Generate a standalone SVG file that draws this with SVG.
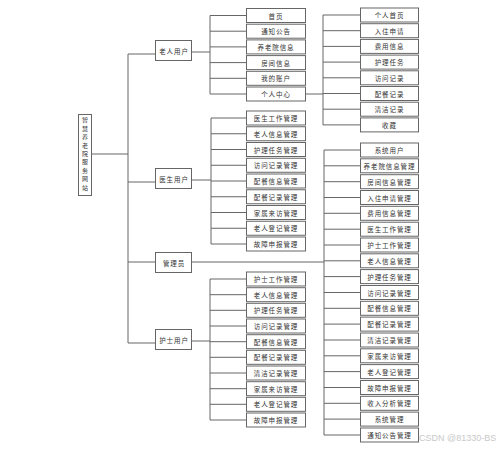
<svg xmlns="http://www.w3.org/2000/svg" width="500" height="449" viewBox="0 0 500 449">
<style>
.b{fill:#fff;stroke:#666;stroke-width:1}
.t{font-family:"Noto Sans CJK SC","Noto Sans",sans-serif;font-size:6.5px;fill:#333;text-anchor:middle;dominant-baseline:central;letter-spacing:0.9px}
.v{font-family:"Noto Sans CJK SC","Noto Sans",sans-serif;font-size:6px;fill:#333;text-anchor:middle;writing-mode:vertical-rl;letter-spacing:2.4px}
.c{fill:none;stroke:#666;stroke-width:1}
.w{font-family:"Liberation Sans",sans-serif;font-size:9px;fill:#c8c8c8}
</style>
<rect width="500" height="449" fill="#fff"/>
<g id="connectors">
<path class="c" d="M91 154H128M128 54V343M128 54H156M128 182H156M128 262H156M128 343H156"/>
<path class="c" d="M192 52H210M210 15.5V94M210 15.5H246M210 31.2H246M210 46.9H246M210 62.6H246M210 78.3H246M210 94H246"/>
<path class="c" d="M306 94H323M323 15V125M323 15H360M323 30.7H360M323 46.4H360M323 62.1H360M323 77.8H360M323 93.5H360M323 109.2H360M323 124.9H360"/>
<path class="c" d="M192 180H211M211 118V244M211 118H246M211 133.75H246M211 149.5H246M211 165.25H246M211 181H246M211 196.75H246M211 212.5H246M211 228.25H246M211 244H246"/>
<path class="c" d="M192 262H324M324 150V435M324 150H360M324 165.8H360M324 181.7H360M324 197.5H360M324 213.3H360M324 229.2H360M324 245H360M324 260.8H360M324 276.6H360M324 292.5H360M324 308.3H360M324 324.1H360M324 340H360M324 355.8H360M324 371.6H360M324 387.5H360M324 403.3H360M324 419.1H360M324 435H360"/>
<path class="c" d="M192 341H210M210 279V420M210 279H246M210 294.7H246M210 310.3H246M210 326H246M210 341.7H246M210 357.3H246M210 373H246M210 388.7H246M210 404.3H246M210 420H246"/>
</g>
<g id="root">
<rect class="b" x="78.5" y="114.5" width="13" height="81"/>
<text class="v" x="85" y="155">智慧养老院服务网站</text>
</g>
<g id="n-elder"><rect class="b" x="155.5" y="40.5" width="36" height="20"/><text class="t" x="174" y="51">老人用户</text></g>
<g id="n-doctor"><rect class="b" x="155.5" y="168.5" width="36" height="20"/><text class="t" x="174" y="179">医生用户</text></g>
<g id="n-admin"><rect class="b" x="155.5" y="252.5" width="36" height="20"/><text class="t" x="174" y="263">管理员</text></g>
<g id="n-nurse"><rect class="b" x="155.5" y="329.5" width="36" height="20"/><text class="t" x="174" y="340">护士用户</text></g>
<g id="elder-children">
<g id="e1"><rect class="b" x="246.5" y="8.5" width="59" height="14"/><text class="t" x="276" y="15.5">首页</text></g>
<g id="e2"><rect class="b" x="246.5" y="24.2" width="59" height="14"/><text class="t" x="276" y="31.2">通知公告</text></g>
<g id="e3"><rect class="b" x="246.5" y="39.9" width="59" height="14"/><text class="t" x="276" y="46.9">养老院信息</text></g>
<g id="e4"><rect class="b" x="246.5" y="55.6" width="59" height="14"/><text class="t" x="276" y="62.6">房间信息</text></g>
<g id="e5"><rect class="b" x="246.5" y="71.3" width="59" height="14"/><text class="t" x="276" y="78.3">我的账户</text></g>
<g id="e6"><rect class="b" x="246.5" y="87" width="59" height="14"/><text class="t" x="276" y="94">个人中心</text></g>
</g>
<g id="center-children">
<g id="p1"><rect class="b" x="360.5" y="8" width="58" height="14"/><text class="t" x="389.5" y="15">个人首页</text></g>
<g id="p2"><rect class="b" x="360.5" y="23.7" width="58" height="14"/><text class="t" x="389.5" y="30.7">入住申请</text></g>
<g id="p3"><rect class="b" x="360.5" y="39.4" width="58" height="14"/><text class="t" x="389.5" y="46.4">费用信息</text></g>
<g id="p4"><rect class="b" x="360.5" y="55.1" width="58" height="14"/><text class="t" x="389.5" y="62.1">护理任务</text></g>
<g id="p5"><rect class="b" x="360.5" y="70.8" width="58" height="14"/><text class="t" x="389.5" y="77.8">访问记录</text></g>
<g id="p6"><rect class="b" x="360.5" y="86.5" width="58" height="14"/><text class="t" x="389.5" y="93.5">配餐记录</text></g>
<g id="p7"><rect class="b" x="360.5" y="102.2" width="58" height="14"/><text class="t" x="389.5" y="109.2">清洁记录</text></g>
<g id="p8"><rect class="b" x="360.5" y="117.9" width="58" height="14"/><text class="t" x="389.5" y="124.9">收藏</text></g>
</g>
<g id="doctor-children">
<g id="d1"><rect class="b" x="246.5" y="111" width="59" height="14"/><text class="t" x="276" y="118">医生工作管理</text></g>
<g id="d2"><rect class="b" x="246.5" y="126.75" width="59" height="14"/><text class="t" x="276" y="133.75">老人信息管理</text></g>
<g id="d3"><rect class="b" x="246.5" y="142.5" width="59" height="14"/><text class="t" x="276" y="149.5">护理任务管理</text></g>
<g id="d4"><rect class="b" x="246.5" y="158.25" width="59" height="14"/><text class="t" x="276" y="165.25">访问记录管理</text></g>
<g id="d5"><rect class="b" x="246.5" y="174" width="59" height="14"/><text class="t" x="276" y="181">配餐信息管理</text></g>
<g id="d6"><rect class="b" x="246.5" y="189.75" width="59" height="14"/><text class="t" x="276" y="196.75">配餐记录管理</text></g>
<g id="d7"><rect class="b" x="246.5" y="205.5" width="59" height="14"/><text class="t" x="276" y="212.5">家属来访管理</text></g>
<g id="d8"><rect class="b" x="246.5" y="221.25" width="59" height="14"/><text class="t" x="276" y="228.25">老人登记管理</text></g>
<g id="d9"><rect class="b" x="246.5" y="237" width="59" height="14"/><text class="t" x="276" y="244">故障申报管理</text></g>
</g>
<g id="admin-children">
<g id="a1"><rect class="b" x="360.5" y="143" width="58" height="14"/><text class="t" x="389.5" y="150">系统用户</text></g>
<g id="a2"><rect class="b" x="360.5" y="158.8" width="58" height="14"/><text class="t" x="389.5" y="165.8">养老院信息管理</text></g>
<g id="a3"><rect class="b" x="360.5" y="174.7" width="58" height="14"/><text class="t" x="389.5" y="181.7">房间信息管理</text></g>
<g id="a4"><rect class="b" x="360.5" y="190.5" width="58" height="14"/><text class="t" x="389.5" y="197.5">入住申请管理</text></g>
<g id="a5"><rect class="b" x="360.5" y="206.3" width="58" height="14"/><text class="t" x="389.5" y="213.3">费用信息管理</text></g>
<g id="a6"><rect class="b" x="360.5" y="222.2" width="58" height="14"/><text class="t" x="389.5" y="229.2">医生工作管理</text></g>
<g id="a7"><rect class="b" x="360.5" y="238" width="58" height="14"/><text class="t" x="389.5" y="245">护士工作管理</text></g>
<g id="a8"><rect class="b" x="360.5" y="253.8" width="58" height="14"/><text class="t" x="389.5" y="260.8">老人信息管理</text></g>
<g id="a9"><rect class="b" x="360.5" y="269.6" width="58" height="14"/><text class="t" x="389.5" y="276.6">护理任务管理</text></g>
<g id="a10"><rect class="b" x="360.5" y="285.5" width="58" height="14"/><text class="t" x="389.5" y="292.5">访问记录管理</text></g>
<g id="a11"><rect class="b" x="360.5" y="301.3" width="58" height="14"/><text class="t" x="389.5" y="308.3">配餐信息管理</text></g>
<g id="a12"><rect class="b" x="360.5" y="317.1" width="58" height="14"/><text class="t" x="389.5" y="324.1">配餐记录管理</text></g>
<g id="a13"><rect class="b" x="360.5" y="333" width="58" height="14"/><text class="t" x="389.5" y="340">清洁记录管理</text></g>
<g id="a14"><rect class="b" x="360.5" y="348.8" width="58" height="14"/><text class="t" x="389.5" y="355.8">家属来访管理</text></g>
<g id="a15"><rect class="b" x="360.5" y="364.6" width="58" height="14"/><text class="t" x="389.5" y="371.6">老人登记管理</text></g>
<g id="a16"><rect class="b" x="360.5" y="380.5" width="58" height="14"/><text class="t" x="389.5" y="387.5">故障申报管理</text></g>
<g id="a17"><rect class="b" x="360.5" y="396.3" width="58" height="14"/><text class="t" x="389.5" y="403.3">收入分析管理</text></g>
<g id="a18"><rect class="b" x="360.5" y="412.1" width="58" height="14"/><text class="t" x="389.5" y="419.1">系统管理</text></g>
<g id="a19"><rect class="b" x="360.5" y="428" width="58" height="14"/><text class="t" x="389.5" y="435">通知公告管理</text></g>
</g>
<g id="nurse-children">
<g id="u1"><rect class="b" x="246.5" y="272" width="59" height="14"/><text class="t" x="276" y="279">护士工作管理</text></g>
<g id="u2"><rect class="b" x="246.5" y="287.7" width="59" height="14"/><text class="t" x="276" y="294.7">老人信息管理</text></g>
<g id="u3"><rect class="b" x="246.5" y="303.3" width="59" height="14"/><text class="t" x="276" y="310.3">护理任务管理</text></g>
<g id="u4"><rect class="b" x="246.5" y="319" width="59" height="14"/><text class="t" x="276" y="326">访问记录管理</text></g>
<g id="u5"><rect class="b" x="246.5" y="334.7" width="59" height="14"/><text class="t" x="276" y="341.7">配餐信息管理</text></g>
<g id="u6"><rect class="b" x="246.5" y="350.3" width="59" height="14"/><text class="t" x="276" y="357.3">配餐记录管理</text></g>
<g id="u7"><rect class="b" x="246.5" y="366" width="59" height="14"/><text class="t" x="276" y="373">清洁记录管理</text></g>
<g id="u8"><rect class="b" x="246.5" y="381.7" width="59" height="14"/><text class="t" x="276" y="388.7">家属来访管理</text></g>
<g id="u9"><rect class="b" x="246.5" y="397.3" width="59" height="14"/><text class="t" x="276" y="404.3">老人登记管理</text></g>
<g id="u10"><rect class="b" x="246.5" y="413" width="59" height="14"/><text class="t" x="276" y="420">故障申报管理</text></g>
</g>
<text class="w" x="419" y="441">CSDN @81330-BS</text>
</svg>
